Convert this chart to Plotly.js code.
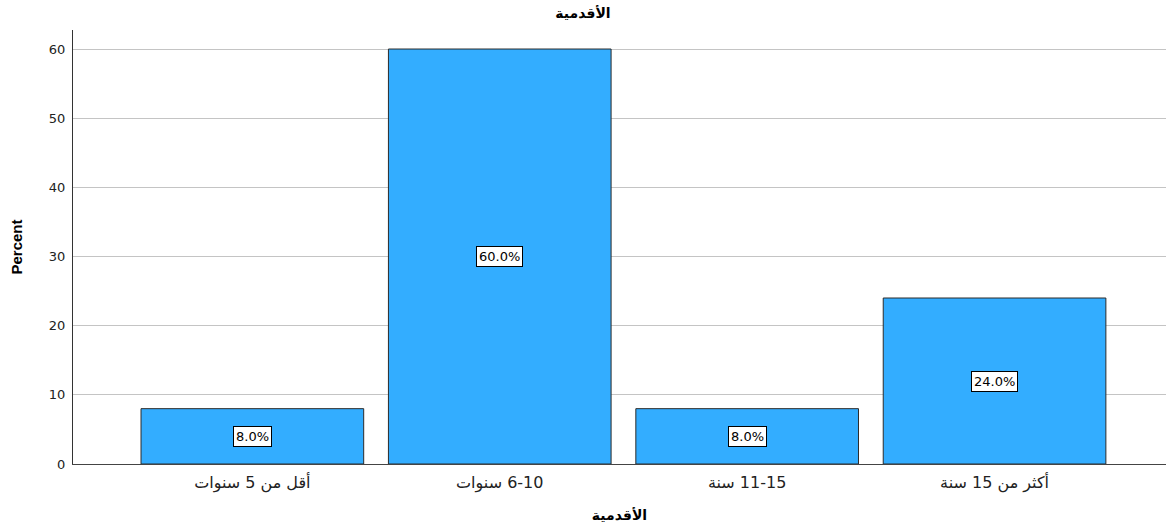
<!DOCTYPE html>
<html>
<head>
<meta charset="utf-8">
<script src="https://cdn.plot.ly/plotly-3.0.1.min.js"></script>
<style>html,body{margin:0;padding:0;background:#fff;}#chart{width:1166px;height:528px;}</style>
</head>
<body>
<div id="chart"></div>
<script>
const categories = ["أقل من 5 سنوات", "6-10 سنوات", "11-15 سنة", "أكثر من 15 سنة"];
const percents = [8.0, 60.0, 8.0, 24.0];
const labels = ["8.0%", "60.0%", "8.0%", "24.0%"];
const yTicks = [0, 10, 20, 30, 40, 50, 60];
const titleText = "الأقدمية";

const fontFam = "DejaVu Sans, Liberation Sans, sans-serif";
const titleFam = "Liberation Sans, DejaVu Sans, sans-serif";

const trace = {
  type: "bar",
  x: categories,
  y: percents,
  width: 0.9,
  marker: { color: "#33adff", line: { color: "#2b2b2b", width: 1 } },
  hoverinfo: "skip"
};

const annotations = categories.map((c, i) => ({
  x: c, y: percents[i] / 2, xref: "x", yref: "y",
  text: labels[i], showarrow: false,
  bgcolor: "#ffffff", bordercolor: "#000000", borderwidth: 1, borderpad: 2,
  font: { family: fontFam, size: 13, color: "#000" }
}));

const layout = {
  width: 1166, height: 528,
  margin: { l: 73, r: 0, t: 30, b: 64 },
  paper_bgcolor: "#fff", plot_bgcolor: "#fff",
  showlegend: false,
  title: { text: "<b>" + titleText + "</b>", x: 0.5, xanchor: "center", y: 0.975, yanchor: "middle",
           font: { family: titleFam, size: 14, color: "#000" } },
  xaxis: {
    type: "category",
    range: [-0.725, 3.693],
    tickvals: categories,
    ticktext: categories.map(c => "\u200F" + c),
    showgrid: false, zeroline: false,
    showline: true, linecolor: "#444", linewidth: 1,
    ticks: "outside", ticklen: 4, tickcolor: "rgba(0,0,0,0)",
    tickfont: { family: fontFam, size: 16, color: "#222" },
    title: { text: "<b>" + titleText + "</b>", standoff: 17, font: { family: titleFam, size: 14, color: "#000" } }
  },
  yaxis: {
    range: [0, 62.75],
    tickvals: yTicks,
    showgrid: true, gridcolor: "#c4c4c4", gridwidth: 1,
    zeroline: false,
    showline: true, linecolor: "#333", linewidth: 1,
    ticks: "outside", ticklen: 4, tickcolor: "rgba(0,0,0,0)",
    tickfont: { family: fontFam, size: 13, color: "#222" },
    title: { text: "<b>Percent</b>", standoff: 22, font: { family: titleFam, size: 15, color: "#000" } }
  },
  annotations: annotations
};

Plotly.newPlot("chart", [trace], layout, { displayModeBar: false, staticPlot: true });
</script>
</body>
</html>
